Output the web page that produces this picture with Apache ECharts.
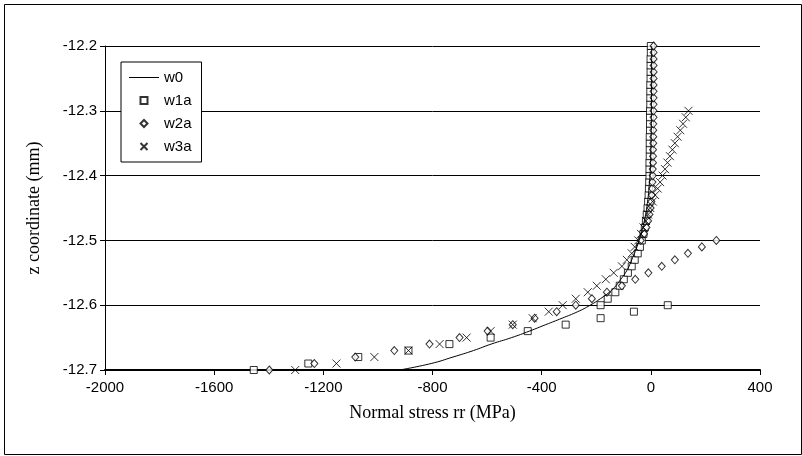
<!DOCTYPE html>
<html>
<head>
<meta charset="utf-8">
<script src="https://cdn.jsdelivr.net/npm/echarts@6/dist/echarts.min.js"></script>
<style>
html,body{margin:0;padding:0;background:#fff;}
#chart{width:802px;height:456px;}
</style>
</head>
<body>
<div id="chart"></div>
<script>
// ---- data (x = normal stress rr in MPa, z = coordinate in mm) ----
const seriesNames = ['w0', 'w1a', 'w2a', 'w3a'];
const xTicks = [-2000, -1600, -1200, -800, -400, 0, 400];
const yTicks = [-12.7, -12.6, -12.5, -12.4, -12.3, -12.2];

const w0Z = [-12.70, -12.69, -12.68, -12.67, -12.66, -12.65, -12.64, -12.63, -12.62, -12.61,
             -12.60, -12.59, -12.58, -12.57, -12.56, -12.55, -12.54, -12.53, -12.52, -12.51,
             -12.50, -12.49, -12.48, -12.47, -12.46, -12.45, -12.44, -12.43, -12.42, -12.41,
             -12.40, -12.38, -12.36, -12.34, -12.32, -12.30, -12.25, -12.20];
const w0X = [-921, -805, -725, -650, -585, -510, -445, -385, -325, -268,
             -222, -185, -152, -128, -110, -93, -80, -70, -60, -51,
             -43, -36, -29, -24, -19, -15, -12, -9, -7, -5,
             -3, -1, 0, 1, 2, 2, 3, 3];

const w1aZ = [-12.70, -12.69, -12.68, -12.67, -12.66, -12.65, -12.64, -12.63, -12.62, -12.61, -12.60,
              -12.60, -12.59, -12.58, -12.57, -12.56, -12.55, -12.54, -12.53, -12.52, -12.51,
              -12.50, -12.49, -12.48, -12.47, -12.46, -12.45, -12.44, -12.43, -12.42, -12.41,
              -12.40, -12.39, -12.38, -12.37, -12.36, -12.35, -12.34, -12.33, -12.32, -12.31,
              -12.30, -12.29, -12.28, -12.27, -12.26, -12.25, -12.24, -12.23, -12.22, -12.21, -12.20];
const w1aX = [-1455, -1255, -1072, -888, -738, -587, -451, -312, -184, -62, 62,
              -184, -158, -130, -114, -99, -84, -70, -59, -48, -40,
              -33, -27, -22, -18, -15, -12, -10, -8, -7, -6,
              -5, -5, -5, -4, -4, -4, -4, -3, -3, -3,
              -3, -2, -2, -2, -2, -1, -1, -1, -1, 0, 0];

const w2aZ = [-12.70, -12.69, -12.68, -12.67, -12.66, -12.65, -12.64, -12.63, -12.62, -12.61,
              -12.60, -12.59, -12.58, -12.57, -12.56, -12.55, -12.54, -12.53, -12.52, -12.51, -12.50,
              -12.50, -12.49, -12.48, -12.47, -12.46, -12.45, -12.44, -12.43, -12.42, -12.41,
              -12.40, -12.39, -12.38, -12.37, -12.36, -12.35, -12.34, -12.33, -12.32, -12.31,
              -12.30, -12.29, -12.28, -12.27, -12.26, -12.25, -12.24, -12.23, -12.22, -12.21, -12.20];
const w2aX = [-1398, -1233, -1083, -940, -811, -701, -598, -506, -426, -345,
              -275, -216, -161, -106, -57, -9, 40, 88, 136, 187, 240,
              -37, -25, -16, -10, -5, -1, 2, 4, 5, 6,
              7, 7, 8, 8, 8, 9, 9, 9, 9, 10,
              10, 10, 10, 10, 10, 10, 10, 10, 10, 10, 10];

const w3aZ = [-12.70, -12.69, -12.68, -12.67, -12.66, -12.65, -12.64, -12.63, -12.62, -12.61,
              -12.60, -12.59, -12.58, -12.57, -12.56, -12.55, -12.54, -12.53, -12.52, -12.51,
              -12.50, -12.49, -12.48, -12.47, -12.46, -12.45, -12.44, -12.43, -12.42, -12.41,
              -12.40, -12.39, -12.38, -12.37, -12.36, -12.35, -12.34, -12.33, -12.32, -12.31, -12.30];
const w3aX = [-1303, -1152, -1013, -888, -774, -675, -587, -506, -433, -374,
              -323, -275, -231, -198, -165, -136, -106, -88, -70, -59,
              -46, -36, -27, -18, -10, -2, 7, 16, 25, 34,
              43, 52, 61, 70, 79, 88, 98, 108, 118, 128, 138];

const pairs = (xs, zs) => xs.map((x, i) => [x, zs[i]]);

const squarePath = 'path://M0,0H10V10H0Z';
const diamondPath = 'path://M5,0L10,5L5,10L0,5Z';
const crossPath = 'path://M0,0L10,10M10,0L0,10';
const linePath = 'path://M0,0H30V1H0Z';

const chart = echarts.init(document.getElementById('chart'), null, {renderer: 'canvas'});
chart.setOption({
  backgroundColor: '#ffffff',
  animation: false,
  graphic: [{
    type: 'rect', left: 2, top: 2, z: -10,
    shape: {width: 797, height: 450},
    style: {fill: 'none', stroke: '#000', lineWidth: 1}
  }],
  grid: {left: 105, right: 42, top: 46, bottom: 86, containLabel: false},
  legend: {
    orient: 'vertical', left: 121, top: 62,
    data: [
      {name: 'w0', icon: linePath, itemStyle: {color: '#000'}},
      {name: 'w1a', icon: squarePath},
      {name: 'w2a', icon: diamondPath},
      {name: 'w3a', icon: crossPath}
    ],
    symbolKeepAspect: true,
    backgroundColor: '#fff',
    borderColor: '#000', borderWidth: 1,
    padding: [8, 10, 8, 8],
    itemGap: 8, itemWidth: 30, itemHeight: 7,
    textStyle: {fontFamily: 'Liberation Sans, Arial, sans-serif', fontSize: 15, color: '#000'}
  },
  xAxis: {
    type: 'value', min: -2000, max: 400, interval: 400,
    name: 'Normal stress rr (MPa)', nameLocation: 'middle', nameGap: 34,
    nameTextStyle: {fontFamily: 'Liberation Serif, Times New Roman, serif', fontSize: 18, color: '#000'},
    axisLine: {onZero: false, lineStyle: {color: '#000', width: 2}},
    axisTick: {show: true, inside: false, length: 5, lineStyle: {color: '#000'}},
    axisLabel: {fontFamily: 'Liberation Sans, Arial, sans-serif', fontSize: 15, color: '#000', margin: 10,
      formatter: v => xTicks.includes(v) ? String(v) : ''},
    splitLine: {show: false}
  },
  yAxis: {
    type: 'value', min: -12.7, max: -12.2, interval: 0.1,
    name: 'z coordinate (mm)', nameLocation: 'middle', nameGap: 62, nameRotate: 90,
    nameTextStyle: {fontFamily: 'Liberation Serif, Times New Roman, serif', fontSize: 18, color: '#000'},
    axisLine: {onZero: false, lineStyle: {color: '#000', width: 1}},
    axisTick: {show: true, inside: false, length: 5, lineStyle: {color: '#000'}},
    axisLabel: {fontFamily: 'Liberation Sans, Arial, sans-serif', fontSize: 15, color: '#000', margin: 8,
      formatter: v => yTicks.some(t => Math.abs(t - v) < 1e-6) ? v.toFixed(1) : ''},
    splitLine: {show: true, lineStyle: {color: '#000', width: 1}}
  },
  series: [
    {
      name: 'w0', type: 'line', data: pairs(w0X, w0Z), smooth: true,
      symbol: 'none', showSymbol: false,
      lineStyle: {color: '#000', width: 1}, itemStyle: {color: '#000'}, z: 5
    },
    {
      name: 'w1a', type: 'scatter', data: pairs(w1aX, w1aZ),
      symbol: 'rect', symbolSize: 7,
      itemStyle: {color: '#fff', borderColor: '#000', borderWidth: 1}, z: 3
    },
    {
      name: 'w2a', type: 'scatter', data: pairs(w2aX, w2aZ),
      symbol: 'diamond', symbolSize: [7, 8],
      itemStyle: {color: '#fff', borderColor: '#000', borderWidth: 1}, z: 3
    },
    {
      name: 'w3a', type: 'scatter', data: pairs(w3aX, w3aZ),
      symbol: crossPath, symbolSize: 8,
      itemStyle: {color: 'none', borderColor: '#000', borderWidth: 1}, z: 4
    }
  ]
});
</script>
</body>
</html>
